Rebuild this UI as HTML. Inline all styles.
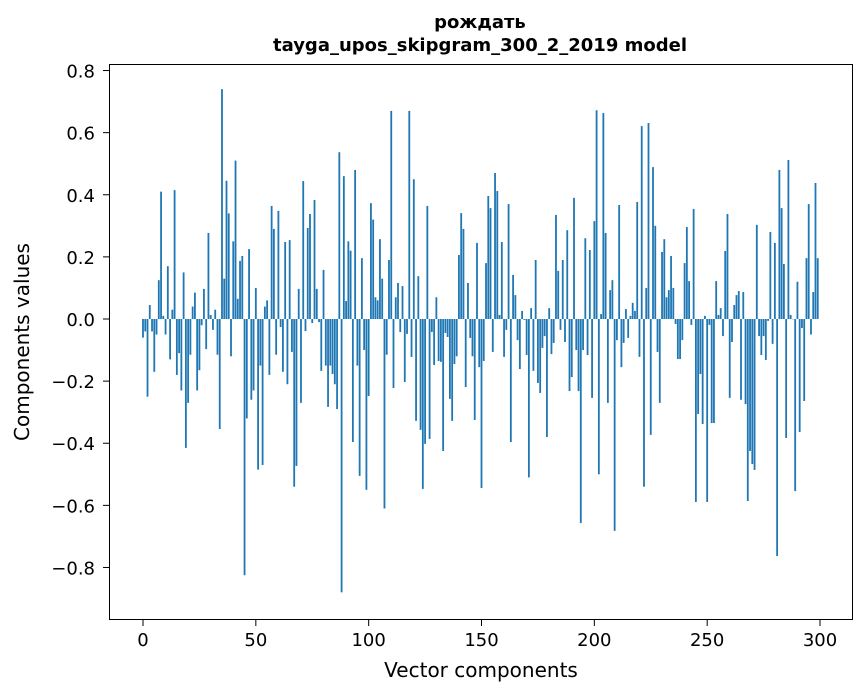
<!DOCTYPE html>
<html><head><meta charset="utf-8"><style>
html,body{margin:0;padding:0;background:#fff;}
svg{display:block;font-family:"DejaVu Sans","Liberation Sans",sans-serif;}
</style></head><body>
<svg id="chart" width="867" height="696">
<rect width="867" height="696" fill="#fff"/>
<text x="480" y="28" text-anchor="middle" font-size="18" font-weight="bold">рождать</text>
<text x="480" y="51" text-anchor="middle" font-size="18" font-weight="bold">tayga_upos_skipgram_300_2_2019 model</text>
<g id="bars"></g>
<g id="xticks"></g>
<g id="yticks"></g>
<rect x="109.5" y="64.5" width="743" height="555" fill="none" stroke="#000" stroke-width="1"/>
<text x="481" y="677" text-anchor="middle" font-size="20">Vector components</text>
<text transform="translate(29,342) rotate(-90)" text-anchor="middle" font-size="20">Components values</text>
</svg>
<script>
const values = [
-0.06,-0.04,-0.25,0.045,-0.04,-0.17,-0.05,0.125,0.41,0.01,
-0.05,0.17,-0.13,0.03,0.415,-0.18,-0.11,-0.23,0.15,-0.415,
-0.27,-0.115,0.04,0.085,-0.23,-0.165,-0.02,0.097,-0.097,0.277,
0.013,-0.035,0.03,-0.115,-0.354,0.74,0.13,0.445,0.34,-0.12,
0.25,0.51,0.065,0.187,0.203,-0.825,-0.32,0.225,-0.26,-0.23,
0.1,-0.485,-0.15,-0.47,0.04,0.06,-0.18,0.364,0.29,-0.115,
0.348,-0.026,-0.17,0.248,-0.21,0.254,-0.106,-0.54,-0.473,0.097,
-0.27,0.444,-0.039,0.293,0.338,-0.013,0.383,0.097,-0.01,-0.167,
0.158,-0.15,-0.283,-0.15,-0.177,-0.21,-0.29,0.537,-0.88,0.46,
0.058,0.25,0.22,-0.396,0.48,-0.15,-0.505,0.196,-0.1,-0.55,
-0.248,0.373,0.32,0.07,0.06,0.257,0.13,-0.61,-0.115,0.19,
0.67,-0.222,0.07,0.116,-0.042,0.106,-0.203,-0.048,0.67,-0.122,
0.45,-0.328,0.138,-0.357,-0.547,-0.402,0.364,-0.386,-0.042,-0.148,
0.07,-0.135,-0.138,-0.425,-0.045,-0.058,-0.257,-0.328,-0.145,-0.12,
0.206,0.341,0.29,-0.219,0.116,-0.061,-0.12,-0.325,0.245,-0.155,
-0.544,-0.135,0.18,0.396,0.357,-0.106,0.47,0.412,0.013,0.248,
-0.122,-0.035,0.37,-0.396,0.142,0.077,-0.068,-0.161,0.026,-0.003,
-0.116,-0.51,0.035,-0.167,0.19,-0.206,-0.238,-0.093,-0.055,-0.38,
0.035,-0.113,-0.077,0.335,0.155,-0.035,0.19,-0.074,0.286,-0.232,
-0.187,0.39,-0.1,-0.232,-0.657,-0.1,0.26,-0.116,0.222,-0.254,
0.315,0.672,-0.5,0.016,0.663,0.277,-0.27,0.093,0.125,-0.682,
-0.068,0.367,-0.155,-0.077,0.032,-0.061,0.01,0.052,0.026,0.377,
-0.122,0.621,-0.54,0.1,0.631,-0.373,0.489,0.3,-0.106,-0.27,
0.216,0.257,0.07,0.093,0.203,0.1,-0.016,-0.129,-0.129,-0.068,
0.18,0.296,0.122,-0.019,0.354,-0.589,-0.306,-0.177,-0.338,0.01,
-0.589,-0.019,-0.335,-0.335,0.122,0.013,0.035,-0.055,0.219,0.338,
-0.254,-0.074,0.045,0.077,0.09,-0.26,0.087,-0.274,-0.586,-0.425,
-0.467,-0.486,0.303,-0.055,-0.116,-0.055,-0.132,-0.006,0.28,-0.08,
0.245,-0.763,0.48,0.357,0.177,-0.383,0.512,0.013,0.0,-0.554,
0.12,-0.364,-0.029,-0.264,0.196,0.37,-0.05,0.087,0.438,0.196
];
const xTickValues = [0,50,100,150,200,250,300];
const yTickValues = [-0.8,-0.6,-0.4,-0.2,0.0,0.2,0.4,0.6,0.8];
const yTickLabels = ["\u22120.8","\u22120.6","\u22120.4","\u22120.2","0.0","0.2","0.4","0.6","0.8"];

const NS = "http://www.w3.org/2000/svg";
function xScale(i){ return 143 + i * (677/300); }
function yScale(v){ return 319 - v * 310.6; }
const bw = 0.8 * (677/300);

const gb = document.getElementById('bars');
values.forEach(function(v,i){
  const r = document.createElementNS(NS,'rect');
  const y0 = yScale(0), y1 = yScale(v);
  r.setAttribute('x', xScale(i) - bw/2);
  r.setAttribute('y', Math.min(y0,y1));
  r.setAttribute('width', bw);
  r.setAttribute('height', Math.max(Math.abs(y1-y0), 0.3));
  r.setAttribute('fill', '#1f77b4');
  
  
  gb.appendChild(r);
});

const gx = document.getElementById('xticks');
xTickValues.forEach(function(t){
  const x = xScale(t);
  const l = document.createElementNS(NS,'line');
  l.setAttribute('x1', x); l.setAttribute('x2', x);
  l.setAttribute('y1', 620); l.setAttribute('y2', 626);
  l.setAttribute('stroke', '#000');
  
  
  gx.appendChild(l);
  const tx = document.createElementNS(NS,'text');
  tx.setAttribute('x', x); tx.setAttribute('y', 646);
  tx.setAttribute('text-anchor', 'middle');
  tx.setAttribute('font-size', '18');
  tx.textContent = String(t);
  
  
  gx.appendChild(tx);
});

const gy = document.getElementById('yticks');
yTickValues.forEach(function(t,k){
  const y = yScale(t);
  const l = document.createElementNS(NS,'line');
  l.setAttribute('x1', 103); l.setAttribute('x2', 109.5);
  l.setAttribute('y1', y); l.setAttribute('y2', y);
  l.setAttribute('stroke', '#000');
  
  
  gy.appendChild(l);
  const tx = document.createElementNS(NS,'text');
  tx.setAttribute('x', 95); tx.setAttribute('y', y + 7);
  tx.setAttribute('text-anchor', 'end');
  tx.setAttribute('font-size', '18');
  tx.textContent = yTickLabels[k];
  
  
  gy.appendChild(tx);
});
</script>
</body></html>
